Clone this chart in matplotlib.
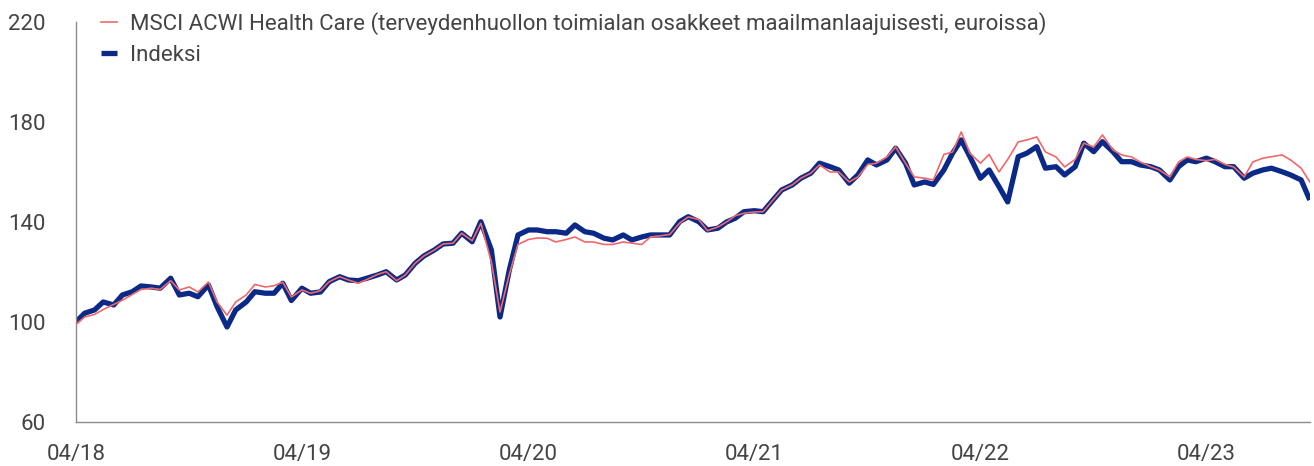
import pandas as pd
import matplotlib.pyplot as plt
import matplotlib.dates as mdates

dates = pd.date_range('2018-04-01', periods=132, freq='SMS')

indeksi = [
    100.0, 103.5, 104.8, 108.0, 106.8, 110.8, 112.1, 114.4, 114.0, 113.5,
    117.5, 110.8, 111.5, 110.1, 114.8, 106.1, 98.0, 104.8, 108.0, 112.1,
    111.5, 111.5, 115.5, 108.6, 113.5, 111.5, 112.0, 116.1, 118.1, 116.8,
    116.5, 117.5, 118.8, 120.1, 116.8, 118.8, 123.5, 126.4, 128.8, 131.2,
    131.5, 135.5, 132.1, 140.1, 128.8, 102.0, 120.8, 134.8, 136.8, 136.8,
    136.1, 136.1, 135.5, 138.8, 136.1, 135.5, 133.5, 132.8, 134.8, 132.8,
    134.0, 134.8, 134.8, 134.8, 140.1, 142.1, 140.1, 136.8, 137.5, 140.0,
    141.5, 144.1, 144.5, 144.1, 148.8, 152.8, 154.8, 157.5, 159.5, 163.5,
    162.1, 160.8, 155.5, 158.8, 164.8, 162.8, 164.8, 169.5, 163.5, 154.8,
    156.0, 155.0, 160.8, 167.5, 172.8, 166.1, 157.5, 160.8, 154.1, 148.0,
    166.1, 167.5, 170.1, 161.5, 162.1, 158.8, 162.1, 171.5, 168.1, 172.1,
    168.1, 164.1, 164.1, 162.8, 162.1, 160.8, 156.8, 162.1, 164.8, 164.1,
    165.5, 164.1, 162.1, 162.1, 157.5, 159.5, 160.8, 161.5, 160.1, 158.8,
    156.8, 148.8,
]

msci_hc = [
    99.0, 102.0, 103.0, 105.0, 107.0, 108.7, 111.0, 113.0, 113.5, 113.0,
    116.5, 112.8, 114.0, 112.0, 116.0, 108.0, 102.7, 108.0, 110.8, 115.0,
    114.0, 114.5, 115.9, 110.0, 112.8, 111.5, 112.5, 116.1, 118.1, 116.8,
    115.5, 117.0, 119.0, 120.1, 116.5, 118.8, 123.5, 126.4, 128.8, 131.2,
    131.5, 135.5, 132.5, 139.5, 124.0, 104.0, 119.0, 131.0, 133.0, 133.6,
    133.5, 132.0, 133.0, 134.0, 132.0, 132.0, 131.0, 131.0, 132.0, 131.5,
    131.0, 134.0, 134.5, 135.0, 139.5, 142.0, 141.0, 136.5, 138.0, 140.0,
    142.5, 143.5, 144.0, 144.1, 148.8, 152.8, 154.8, 157.5, 159.5, 162.8,
    160.0, 160.0, 156.0, 158.0, 163.0, 163.5, 166.0, 170.0, 163.5, 158.0,
    157.5, 156.8, 167.0, 168.0, 176.0, 167.5, 163.5, 167.0, 160.0, 165.0,
    172.0, 172.8, 174.0, 168.0, 166.0, 162.0, 165.0, 171.5, 170.0, 174.8,
    168.8, 166.8, 166.0, 164.0, 162.1, 160.8, 158.0, 164.0, 166.0, 165.0,
    164.5, 165.0, 163.0, 162.0, 158.0, 164.0, 165.5, 166.1, 166.8, 164.8,
    161.5, 156.0,
]

plt.rcParams['font.family'] = ['Roboto', 'DejaVu Sans']

fig = plt.figure(figsize=(13.14, 4.66), dpi=100)
ax = fig.add_axes([0.0578, 0.0944, 0.939, 0.8586])

ax.plot(dates, indeksi, color='#0B2A87', lw=3.8, solid_capstyle='butt',
        label='Indeksi', zorder=2)
ax.plot(dates, msci_hc, color='#F0686A', lw=1.2,
        label='MSCI ACWI Health Care (terveydenhuollon toimialan osakkeet maailmanlaajuisesti, euroissa)',
        zorder=3)

ax.set_ylim(60, 220)
ax.set_yticks([60, 100, 140, 180, 220])
ax.set_xlim(dates[0], dates[-1])
ax.set_xticks(pd.to_datetime(['2018-04-01', '2019-04-01', '2020-04-01',
                              '2021-04-01', '2022-04-01', '2023-04-01']))
ax.xaxis.set_major_formatter(mdates.DateFormatter('%m/%y'))

for s in ['top', 'right']:
    ax.spines[s].set_visible(False)
for s in ['left', 'bottom']:
    ax.spines[s].set_color('#8a8a8a')
    ax.spines[s].set_linewidth(1.0)
ax.tick_params(axis='both', length=0, labelsize=16, colors='#444444')
ax.tick_params(axis='y', pad=22)
ax.tick_params(axis='x', pad=16)

h, l = ax.get_legend_handles_labels()
leg = ax.legend(h[::-1], l[::-1], loc='upper left', bbox_to_anchor=(0.02, 1.025),
                frameon=False, fontsize=16, handlelength=0.75, handletextpad=0.55,
                labelspacing=0.45, borderpad=0, borderaxespad=0,
                labelcolor='#444444')

fig.savefig('out.png', dpi=100)
